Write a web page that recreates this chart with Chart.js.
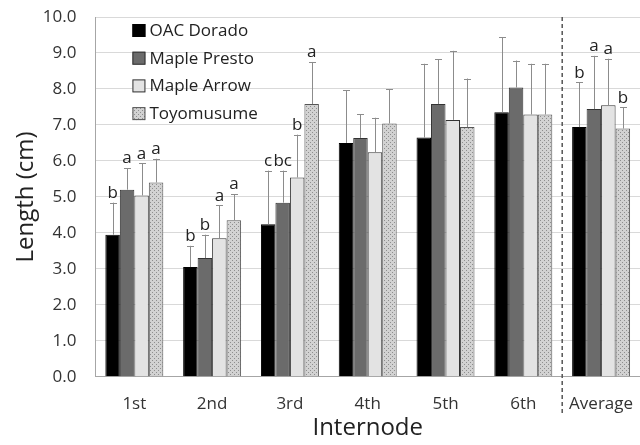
<!DOCTYPE html>
<html>
<head>
<meta charset="utf-8">
<script src="https://cdn.jsdelivr.net/npm/chart.js@4/dist/chart.umd.min.js"></script>
<style>
  body { margin: 0; background: #fff; }
  #wrap { width: 640px; height: 445px; }
</style>
</head>
<body>
<div id="wrap"><canvas id="my-chart" width="640" height="445"></canvas></div>
<script>
// internode categories
var categories = ['1st', '2nd', '3rd', '4th', '5th', '6th', 'Average']

// mean lengths (cm) and SD
var oacDorado   = [3.95, 3.05, 4.24, 6.50, 6.65, 7.35, 6.94]
var oacErr      = [0.89, 0.59, 1.49, 1.46, 2.05, 2.09, 1.24]
var maplePresto = [5.20, 3.30, 4.84, 6.64, 7.58, 8.04, 7.44]
var prestoErr   = [0.60, 0.65, 0.89, 0.66, 1.24, 0.75, 1.48]
var mapleArrow  = [5.04, 3.85, 5.54, 6.24, 7.14, 7.29, 7.55]
var arrowErr    = [0.89, 0.92, 1.19, 0.96, 1.92, 1.41, 1.29]
var toyomusume  = [5.40, 4.35, 7.58, 7.04, 6.94, 7.29, 6.90]
var toyoErr     = [0.66, 0.73, 1.17, 0.95, 1.35, 1.41, 0.59]

// significance letters
var oacLetters    = ['b', 'b', 'c', '', '', '', 'b']
var prestoLetters = ['a', 'b', 'bc', '', '', '', 'a']
var arrowLetters  = ['a', 'a', 'b', '', '', '', 'a']
var toyoLetters   = ['a', 'a', 'a', '', '', '', 'b']

var FONT = "'Open Sans', sans-serif"

// dotted fill for Toyomusume
function makeDots() {
    var c = document.createElement('canvas')
    c.width = 4; c.height = 4
    var g = c.getContext('2d')
    g.fillStyle = '#d2d2d2'
    g.fillRect(0, 0, 4, 4)
    g.fillStyle = '#8e8e8e'
    g.fillRect(0, 0, 1, 1)
    g.fillRect(2, 2, 1, 1)
    return g.createPattern(c, 'repeat')
}
var dots = makeDots()

// error bars + letters on top
var errorBars = {
    id: 'errorBars',
    afterDatasetsDraw: function(chart) {
        var ctx = chart.ctx
        var y = chart.scales.y
        chart.data.datasets.forEach(function(ds, i) {
            var meta = chart.getDatasetMeta(i)
            meta.data.forEach(function(bar, j) {
                var top = y.getPixelForValue(ds.data[j] + ds.errors[j])
                ctx.save()
                ctx.strokeStyle = '#8c8c8c'
                ctx.lineWidth = 1
                ctx.beginPath()
                ctx.moveTo(Math.round(bar.x) + 0.5, bar.y)
                ctx.lineTo(Math.round(bar.x) + 0.5, top)
                ctx.moveTo(Math.round(bar.x) - 3, Math.round(top) + 0.5)
                ctx.lineTo(Math.round(bar.x) + 4, Math.round(top) + 0.5)
                ctx.stroke()
                if (ds.letters[j]) {
                    ctx.fillStyle = '#222'
                    ctx.font = '17px ' + FONT
                    ctx.textAlign = 'center'
                    ctx.textBaseline = 'bottom'
                    ctx.fillText(ds.letters[j], bar.x, top - 1)
                }
                ctx.restore()
            })
        })
    }
}

// legend drawn inside the plot area
var insideLegend = {
    id: 'insideLegend',
    afterDatasetsDraw: function(chart) {
        var ctx = chart.ctx
        var a = chart.chartArea
        ctx.save()
        ctx.font = '17px ' + FONT
        ctx.textBaseline = 'middle'
        ctx.textAlign = 'left'
        chart.data.datasets.forEach(function(ds, i) {
            var cy = a.top + 13 + i * 27.7
            var bx = a.left + 37
            ctx.fillStyle = ds.backgroundColor
            ctx.fillRect(bx, cy - 6, 13, 13)
            ctx.strokeStyle = ds.borderColor
            ctx.lineWidth = 1
            ctx.strokeRect(bx + 0.5, cy - 5.5, 12, 12)
            ctx.fillStyle = '#222'
            ctx.fillText(ds.label, bx + 17, cy + 1)
        })
        ctx.restore()
    }
}

// dashed divider before "Average"
var divider = {
    id: 'divider',
    afterDraw: function(chart) {
        var ctx = chart.ctx
        var x = chart.scales.x
        var px = (x.getPixelForValue(5) + x.getPixelForValue(6)) / 2
        ctx.save()
        ctx.strokeStyle = '#555'
        ctx.lineWidth = 1.5
        ctx.setLineDash([4, 3])
        ctx.beginPath()
        ctx.moveTo(px, chart.chartArea.top)
        ctx.lineTo(px, 415)
        ctx.stroke()
        ctx.restore()
    }
}

var myChart = document.getElementById('my-chart').getContext('2d')

var chart = new Chart(myChart, {
    type: 'bar',
    data: {
        labels: categories,
        datasets: [
            { label: 'OAC Dorado', data: oacDorado, errors: oacErr, letters: oacLetters,
              backgroundColor: '#000000', borderColor: '#000000', borderWidth: 1 },
            { label: 'Maple Presto', data: maplePresto, errors: prestoErr, letters: prestoLetters,
              backgroundColor: '#6b6b6b', borderColor: '#333333', borderWidth: 1 },
            { label: 'Maple Arrow', data: mapleArrow, errors: arrowErr, letters: arrowLetters,
              backgroundColor: '#e3e3e3', borderColor: '#333333', borderWidth: 1 },
            { label: 'Toyomusume', data: toyomusume, errors: toyoErr, letters: toyoLetters,
              backgroundColor: dots, borderColor: '#555555', borderWidth: 1 }
        ]
    },
    options: {
        responsive: false,
        animation: false,
        devicePixelRatio: 1,
        layout: { padding: { left: 10, top: 17, right: 0, bottom: 2 } },
        datasets: { bar: { barPercentage: 1.0, categoryPercentage: 0.745 } },
        plugins: {
            legend: { display: false },
            tooltip: { enabled: false }
        },
        scales: {
            x: {
                grid: { display: false, drawTicks: false },
                border: { color: '#a6a6a6' },
                ticks: { padding: 17, color: '#333', font: { family: FONT, size: 17 } },
                title: { display: true, text: 'Internode', color: '#222',
                         font: { family: FONT, size: 24 }, padding: { top: -17, bottom: 0 } },
                afterFit: function(s) { s.paddingLeft = 0; s.paddingRight = 0 }
            },
            y: {
                min: 0, max: 10,
                grid: { color: '#d9d9d9', drawTicks: false },
                border: { color: '#a6a6a6' },
                ticks: { stepSize: 1, padding: 19, color: '#333', font: { family: FONT, size: 17 },
                         callback: function(v) { return v.toFixed(1) } },
                title: { display: true, text: 'Length (cm)', color: '#222',
                         font: { family: FONT, size: 24 }, padding: { top: 2, bottom: -17 } },
                afterFit: function(s) { s.paddingTop = 0; s.paddingBottom = 0 }
            }
        }
    },
    plugins: [errorBars, insideLegend, divider]
})
</script>
</body>
</html>
